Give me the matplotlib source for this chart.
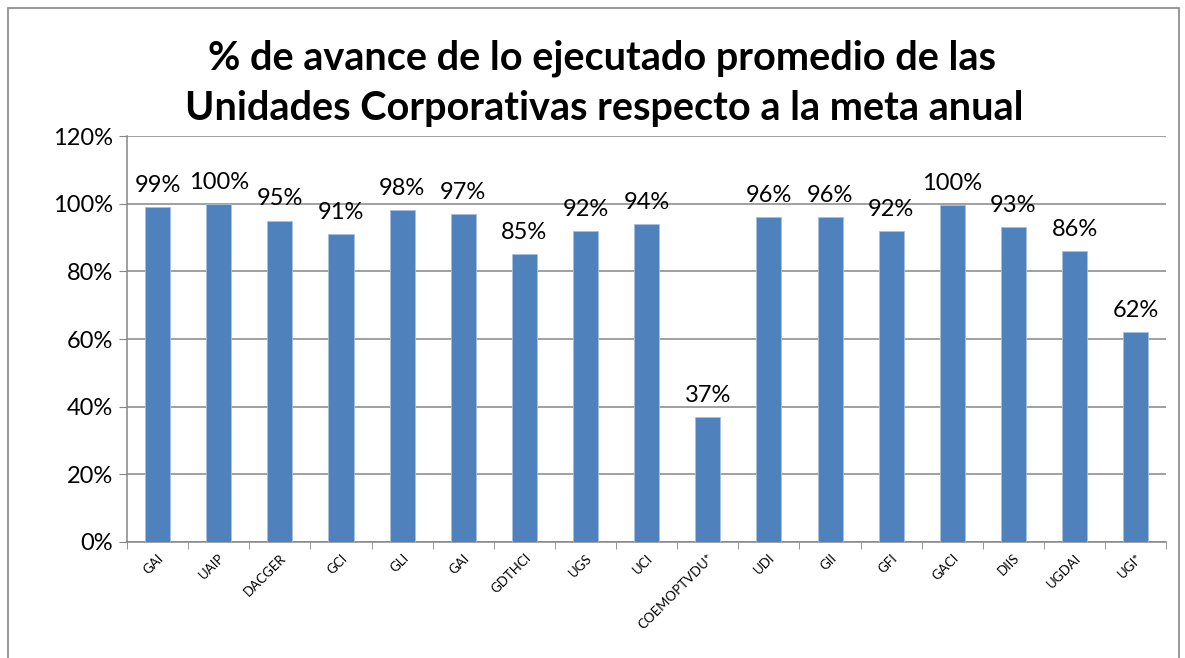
import numpy as np
import matplotlib.pyplot as plt
from matplotlib.patches import Rectangle
from matplotlib.ticker import PercentFormatter

units = ["GAI", "UAIP", "DACGER", "GCI", "GLI", "GAI", "GDTHCI", "UGS", "UCI",
         "COEMOPTVDU*", "UDI", "GII", "GFI", "GACI", "DIIS", "UGDAI", "UGI*"]
avance = [0.99, 1.00, 0.95, 0.91, 0.98, 0.97, 0.85, 0.92, 0.94,
          0.37, 0.96, 0.96, 0.92, 0.996, 0.93, 0.86, 0.62]

plt.rcParams["font.family"] = ["Lato", "DejaVu Sans"]

fig = plt.figure(figsize=(11.85, 6.58), dpi=100)
ax = fig.add_axes([0.1072, 0.1763, 0.877, 0.617])

x = np.arange(len(units))
ax.bar(x, avance, width=0.41, color="#4f81bd", edgecolor="#a7c0de", linewidth=0.6, zorder=3)

for xi, v in zip(x, avance):
    ax.annotate(f"{round(v * 100):.0f}%", (xi, v), xytext=(0, 8), textcoords="offset points",
                ha="center", va="bottom", fontsize=17)

ax.set_xlim(-0.5, len(units) - 0.5)
ax.set_ylim(0, 1.2)
ax.set_yticks(np.arange(0, 1.21, 0.2))
ax.yaxis.set_major_formatter(PercentFormatter(1.0, decimals=0))
ax.tick_params(axis="y", labelsize=17, length=6, color="#868686", pad=4)
ax.grid(axis="y", color="#868686", linewidth=1.1, zorder=0)

ax.set_xticks(x)
ax.set_xticklabels(units, rotation=45, ha="right", rotation_mode="anchor", fontsize=9.5)
ax.set_xticks(np.arange(-0.5, len(units), 1), minor=True)
ax.tick_params(axis="x", which="major", length=0, pad=7)
ax.tick_params(axis="x", which="minor", length=5, color="#868686")

for side in ["top", "right"]:
    ax.spines[side].set_visible(False)
for side in ["left", "bottom"]:
    ax.spines[side].set_color("#868686")
    ax.spines[side].set_linewidth(1.1)

fig.text(0.508, 0.912, "% de avance de lo ejecutado promedio de las", ha="center", va="center",
         fontsize=28.5, fontweight="bold")
fig.text(0.51, 0.835, "Unidades Corporativas respecto a la meta anual", ha="center", va="center",
         fontsize=28.5, fontweight="bold")

fig.patches.append(Rectangle((0.007, -0.01), 0.988, 0.998, transform=fig.transFigure,
                             fill=False, edgecolor="#868686", linewidth=1.2))

fig.savefig("out.png", dpi=100)
